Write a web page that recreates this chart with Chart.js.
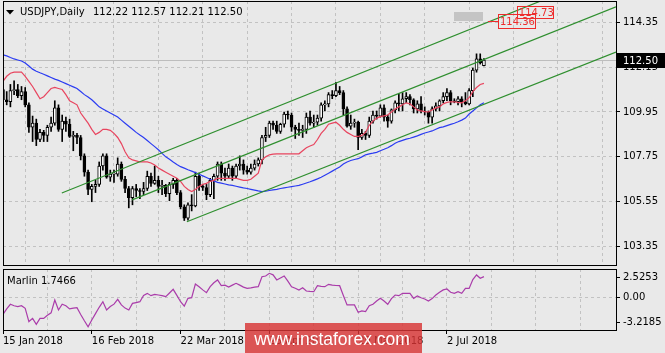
<!DOCTYPE html>
<html>
<head>
<meta charset="utf-8">
<script src="https://cdn.jsdelivr.net/npm/chart.js@4.4.1/dist/chart.umd.min.js"></script>
<style>
  html, body { margin: 0; padding: 0; background: #e9e9e9; }
  #wrap { position: relative; width: 665px; height: 353px; overflow: hidden; }
  #main { position: absolute; left: 0; top: 0; }
  #osc { position: absolute; left: 0; top: 267px; }
</style>
</head>
<body>
<div id="wrap">
  <canvas id="main" width="665" height="267"></canvas>
  <canvas id="osc" width="665" height="86"></canvas>
</div>
<script>
// USDJPY daily, bar 0 = 15 Jan 2018
const openP = [111.05,110.55,110.45,111.00,111.05,110.75,110.95,110.30,109.20,109.40,
  108.60,108.95,108.80,109.20,109.40,110.15,109.10,109.50,109.35,108.75,
  108.80,108.70,107.80,107.00,106.15,106.30,106.40,107.30,107.80,106.75,
  106.90,106.90,107.40,106.65,106.20,105.75,106.20,106.10,106.05,106.20,
  106.80,106.45,106.60,106.30,106.35,105.95,106.40,106.60,106.00,105.30,
  104.75,105.40,105.35,106.80,106.30,106.25,105.90,106.60,106.80,107.40,
  106.95,106.80,107.20,106.80,107.30,107.40,107.10,107.00,107.20,107.40,
  107.60,108.70,108.80,109.40,109.30,109.00,109.35,109.85,109.80,109.20,
  109.10,109.05,109.10,109.70,109.40,109.45,109.65,110.30,110.35,110.80,
  110.75,111.00,110.90,110.10,109.25,109.40,109.45,108.70,108.90,108.80,
  109.50,109.80,109.75,110.15,109.70,109.50,110.05,110.40,110.35,110.60,
  110.70,110.55,110.10,110.35,110.00,109.95,109.70,110.10,110.25,110.50,
  110.70,110.90,110.50,110.45,110.60,110.45,110.35,111.00,112.00,112.55,
  112.22];
const highP = [111.30,110.95,111.30,111.48,111.30,111.20,111.15,110.40,109.75,109.60,
  109.10,109.05,109.30,109.70,110.50,110.30,109.80,109.70,109.60,109.00,
  108.90,108.80,107.90,107.10,106.40,106.60,107.50,107.90,107.90,107.10,
  107.10,107.70,107.50,106.80,106.30,106.30,106.40,106.20,106.50,107.05,
  106.95,107.30,106.80,106.60,106.40,106.50,106.70,106.70,106.10,105.40,
  105.50,105.90,107.00,106.95,106.40,106.40,106.70,106.90,107.50,107.50,
  107.20,107.40,107.30,107.40,107.80,107.60,107.30,107.40,107.60,107.70,
  108.80,109.20,109.50,109.50,109.50,109.40,109.95,110.00,109.90,109.30,
  109.40,109.30,109.90,110.00,109.80,109.80,110.40,110.50,110.90,111.00,
  111.40,111.20,111.00,110.20,109.80,109.60,109.50,109.10,109.00,109.70,
  110.00,110.00,110.30,110.30,109.80,110.10,110.50,110.85,110.90,110.90,
  110.80,110.60,110.50,110.70,110.20,110.00,110.20,110.40,110.55,110.90,
  111.10,111.00,110.60,110.70,110.70,110.90,111.10,112.10,112.80,112.80,
  112.57];
const lowP = [110.33,110.30,110.20,110.80,110.65,110.55,110.20,108.95,108.50,108.30,
  108.50,108.50,108.50,109.00,109.30,109.00,108.50,109.00,108.70,108.05,
  108.40,107.60,106.80,105.90,105.55,106.00,106.30,107.10,106.70,106.55,
  106.50,106.80,106.55,106.00,105.25,105.40,105.80,105.70,105.90,106.10,
  106.30,106.40,106.00,105.90,105.80,105.60,106.20,105.90,105.20,104.63,
  104.65,105.10,105.30,106.10,106.10,105.65,105.80,105.70,106.60,106.60,
  106.60,106.70,106.60,106.70,107.10,106.90,106.90,106.90,107.10,107.30,
  107.40,108.50,108.70,109.10,108.90,108.90,109.20,109.60,109.00,108.65,
  108.80,108.70,108.90,109.30,109.20,109.30,109.50,110.00,110.20,110.60,
  110.70,110.80,109.80,109.20,109.10,109.20,108.10,108.60,108.60,108.70,
  109.40,109.60,109.70,109.50,109.20,109.40,109.90,110.00,110.00,110.40,
  110.30,109.90,109.90,109.90,109.80,109.40,109.40,110.00,110.00,110.40,
  110.50,110.30,110.40,110.30,110.20,110.30,110.30,110.70,111.90,112.30,
  112.21];
const closeP = [110.55,110.45,111.00,111.05,110.75,110.95,110.30,109.20,109.40,108.60,
  108.95,108.80,109.20,109.40,110.15,109.10,109.50,109.35,108.75,108.80,
  108.70,107.80,107.00,106.15,106.30,106.40,107.30,107.80,106.75,106.90,
  106.90,107.40,106.65,106.20,105.75,106.20,106.10,106.05,106.20,106.80,
  106.45,106.60,106.30,106.35,105.95,106.40,106.60,106.00,105.30,104.75,
  105.40,105.35,106.80,106.30,106.25,105.90,106.60,106.80,107.40,106.95,
  106.80,107.20,106.80,107.30,107.40,107.10,107.00,107.20,107.40,107.60,
  108.70,108.80,109.40,109.30,109.00,109.35,109.85,109.80,109.20,109.10,
  109.05,109.10,109.70,109.40,109.45,109.65,110.30,110.35,110.80,110.75,
  111.00,110.90,110.10,109.25,109.40,109.45,108.70,108.90,108.80,109.50,
  109.80,109.75,110.15,109.70,109.50,110.05,110.40,110.35,110.60,110.70,
  110.55,110.10,110.35,110.00,109.95,109.70,110.10,110.25,110.50,110.70,
  110.90,110.50,110.45,110.60,110.45,110.35,111.00,112.00,112.55,112.35,
  112.50];

// moving averages
const redMA = [111.45,111.70,111.85,111.90,111.90,111.90,111.70,111.45,111.20,110.90,
  110.60,110.70,110.90,111.10,111.15,111.10,111.05,110.80,110.50,110.40,
  110.30,109.90,109.65,109.40,109.10,108.85,108.95,109.10,109.10,109.05,
  108.90,108.70,108.40,108.00,107.70,107.60,107.55,107.50,107.50,107.50,
  107.45,107.35,107.20,107.10,107.00,106.90,106.80,106.70,106.55,106.30,
  106.15,106.05,106.15,106.30,106.40,106.45,106.55,106.60,106.70,106.70,
  106.70,106.70,106.70,106.70,106.65,106.60,106.60,106.65,106.80,106.95,
  107.60,107.75,107.85,107.88,107.90,107.90,107.90,107.90,107.90,107.90,
  107.90,108.05,108.20,108.28,108.35,108.60,108.90,109.10,109.35,109.40,
  109.45,109.30,109.10,108.95,108.85,108.75,108.75,108.80,108.95,109.30,
  109.50,109.65,109.72,109.76,109.80,109.95,110.10,110.20,110.30,110.40,
  110.35,110.20,110.05,110.00,109.97,109.95,110.05,110.15,110.20,110.35,
  110.42,110.45,110.45,110.42,110.40,110.50,110.65,110.95,111.15,111.30,
  111.35];
const blueMA = [112.75,112.70,112.62,112.55,112.50,112.45,112.35,112.20,112.05,111.95,
  111.87,111.80,111.72,111.64,111.56,111.50,111.42,111.34,111.26,111.18,
  111.10,110.95,110.80,110.68,110.55,110.38,110.20,110.10,110.00,109.90,
  109.80,109.70,109.55,109.40,109.25,109.10,108.95,108.82,108.70,108.55,
  108.40,108.25,108.10,107.92,107.75,107.63,107.50,107.38,107.27,107.20,
  107.12,107.05,106.98,106.90,106.82,106.74,106.65,106.57,106.50,106.46,
  106.42,106.38,106.35,106.31,106.27,106.23,106.20,106.16,106.12,106.08,
  106.05,106.07,106.10,106.13,106.16,106.20,106.23,106.26,106.29,106.32,
  106.35,106.41,106.47,106.53,106.60,106.67,106.75,106.85,106.95,107.05,
  107.15,107.25,107.40,107.50,107.57,107.62,107.66,107.75,107.85,107.90,
  107.93,107.97,108.05,108.12,108.20,108.30,108.42,108.50,108.56,108.62,
  108.66,108.72,108.78,108.85,108.92,108.97,109.02,109.10,109.18,109.22,
  109.28,109.34,109.40,109.47,109.55,109.65,109.85,110.00,110.15,110.30,
  110.40];

// Marlin oscillator
const marlin = [-2.2,-1.5,-0.92,-1.1,-1.2,-1.1,-1.43,-3.1,-2.7,-3.45,
  -2.7,-2.7,-2.3,-2.0,-0.38,-1.64,-0.92,-1.1,-1.5,-1.4,
  -1.35,-2.2,-3.0,-3.75,-2.9,-2.1,-1.3,-0.59,-1.64,-1.2,
  -0.9,-0.29,-1.0,-1.4,-1.64,-0.8,-0.7,-0.59,0.2,0.46,
  0.17,0.34,0.25,0.17,0.04,0.5,0.97,0.2,-0.6,-1.14,
  -0.17,-0.08,1.64,1.3,0.9,0.55,1.3,1.8,2.15,1.43,
  1.5,1.26,1.5,1.73,1.5,1.25,1.09,1.15,1.25,1.3,
  2.56,2.65,2.99,2.8,2.15,2.4,2.65,2.0,1.3,1.1,
  0.88,1.17,0.76,0.7,0.67,1.43,1.35,1.3,1.6,1.5,
  1.45,1.43,0.2,-1.0,-1.0,-1.0,-1.93,-1.76,-1.85,-1.1,
  -0.92,-0.5,-0.17,-0.5,-0.92,-0.2,0.25,0.17,0.46,0.46,
  0.46,-0.17,0.13,-0.1,-0.25,-0.5,-0.2,0.25,0.6,0.9,
  1.01,0.6,0.46,0.67,0.46,1.09,1.09,2.2,2.78,2.36,
  2.57];

// channel lines: [bar index, price] at each end
const channelTop = [[15.9, 105.98], [165.7, 116.87]];
const channelMid = [[34.9, 105.64], [165.7, 115.10]];
const channelLow = [[49.7, 104.57], [165.7, 112.89]];

const dateLabels = ['15 Jan 2018', '16 Feb 2018', '22 Mar 2018', '25 Apr 2018', '29 May 2018', '2 Jul 2018'];
const priceTicks = [103.35, 105.55, 107.75, 109.95, 112.15, 114.35];
const marlinTicks = [-3.2185, 0, 2.5253];
const lastPrice = 112.50;
const lineTags = [114.36, 114.73];

const xMin = 0, xMax = 165.7;

Chart.defaults.font.family = 'DejaVu Sans';
Chart.defaults.font.size = 10;
Chart.defaults.color = '#000';

function xGrid(scale) {
  const t = [];
  for (let v = 0; v <= xMax; v += 12) t.push({ value: v });
  scale.ticks = t;
}
function noPad(s) {
  s.paddingTop = 0; s.paddingBottom = 0; s.paddingLeft = 0; s.paddingRight = 0;
}

const bodyData = openP.map((o, i) => ({ x: i, y: [o, closeP[i]] }));
const wickData = highP.map((h, i) => ({ x: i, y: [lowP[i], h] }));
const bodyFill = openP.map((o, i) => closeP[i] >= o ? '#ffffff' : '#000000');
const asPoints = arr => arr.map((v, i) => ({ x: i, y: v }));
const asLine = pts => pts.map(p => ({ x: p[0], y: p[1] }));

const mainDecor = {
  id: 'mainDecor',
  beforeDatasetsDraw(chart) {
    const { ctx, chartArea: a, scales: { y } } = chart;
    const py = Math.round(y.getPixelForValue(lastPrice)) + 0.5;
    ctx.save();
    ctx.strokeStyle = '#bdbdbd';
    ctx.lineWidth = 1;
    ctx.beginPath();
    ctx.moveTo(a.left, py);
    ctx.lineTo(a.right, py);
    ctx.stroke();
    ctx.restore();
  },
  afterDraw(chart) {
    const { ctx, chartArea: a, scales: { x, y } } = chart;
    ctx.save();
    ctx.strokeStyle = '#000';
    ctx.lineWidth = 1;
    ctx.strokeRect(a.left + 0.5, a.top + 0.5, a.right - a.left, a.bottom - a.top - 1);

    // header
    ctx.fillStyle = '#000';
    ctx.beginPath();
    ctx.moveTo(6, 10); ctx.lineTo(14, 10); ctx.lineTo(10, 14.5); ctx.closePath();
    ctx.fill();
    ctx.font = '10px "DejaVu Sans"';
    ctx.textBaseline = 'alphabetic';
    ctx.fillText('USDJPY,Daily', 20, 15);
    ctx.fillText('112.22 112.57 112.21 112.50', 93, 15);

    // grey object box
    ctx.fillStyle = '#c4c4c4';
    ctx.fillRect(454, 12, 29, 9);

    // line price tags
    ctx.strokeStyle = '#ee2b2b';
    ctx.fillStyle = '#ee2b2b';
    const t1y = y.getPixelForValue(lineTags[0]) - 1.5;
    const t2y = y.getPixelForValue(lineTags[1]) - 2.5;
    const t1x = x.getPixelForValue(133.8);
    const t2x = x.getPixelForValue(138.9);
    ctx.beginPath();
    ctx.moveTo(488, Math.round(t1y) + 0.5);
    ctx.lineTo(t1x, Math.round(t1y) + 0.5);
    ctx.stroke();
    ctx.strokeRect(Math.round(t1x) + 0.5, Math.round(t1y - 7) + 0.5, 37, 14);
    ctx.fillText(lineTags[0].toFixed(2), t1x + 2, t1y + 4.5);
    ctx.strokeRect(Math.round(t2x) + 0.5, Math.round(t2y - 6) + 0.5, 36, 12);
    ctx.fillText(lineTags[1].toFixed(2), t2x + 2, t2y + 4);

    // last price marker
    const py = y.getPixelForValue(lastPrice);
    ctx.fillStyle = '#000';
    ctx.fillRect(617, Math.round(py) - 7, 48, 15);
    ctx.fillStyle = '#fff';
    ctx.fillText(lastPrice.toFixed(2), 623, py + 4);
    ctx.restore();
  }
};

new Chart(document.getElementById('main'), {
  type: 'bar',
  data: {
    datasets: [
      { type: 'bar', data: wickData, backgroundColor: '#000', barThickness: 1, grouped: false, order: 5 },
      { type: 'bar', data: bodyData, backgroundColor: bodyFill, borderColor: '#000', borderWidth: 1,
        borderSkipped: false, barThickness: 3, minBarLength: 1, grouped: false, order: 4 },
      { type: 'line', data: asPoints(blueMA), borderColor: '#2b3cf2', borderWidth: 1.2, pointRadius: 0, order: 3 },
      { type: 'line', data: asPoints(redMA), borderColor: '#e8455f', borderWidth: 1.2, pointRadius: 0, order: 2 },
      { type: 'line', data: asLine(channelTop), borderColor: '#2f8f2f', borderWidth: 1.2, pointRadius: 0, order: 1 },
      { type: 'line', data: asLine(channelMid), borderColor: '#2f8f2f', borderWidth: 1.2, pointRadius: 0, order: 1 },
      { type: 'line', data: asLine(channelLow), borderColor: '#2f8f2f', borderWidth: 1.2, pointRadius: 0, order: 1 }
    ]
  },
  options: {
    responsive: false,
    animation: false,
    devicePixelRatio: 1,
    layout: { padding: { left: 3, top: 1, bottom: 1, right: 0 } },
    plugins: { legend: { display: false }, tooltip: { enabled: false } },
    scales: {
      x: {
        type: 'linear', min: xMin, max: xMax, offset: false,
        afterBuildTicks: xGrid,
        afterFit: s => { s.height = 0; noPad(s); },
        ticks: { display: false },
        grid: { color: '#c2c2c2', drawTicks: false },
        border: { display: false, dash: [3, 3] }
      },
      y: {
        position: 'right', min: 102.40, max: 115.39,
        afterBuildTicks: s => { s.ticks = priceTicks.map(v => ({ value: v })); },
        afterFit: s => { s.width = 49; noPad(s); },
        ticks: { padding: 3, callback: v => Number(v).toFixed(2) },
        grid: { color: '#c2c2c2', tickLength: 4, tickColor: '#000', tickBorderDash: [] },
        border: { display: false, dash: [3, 3] }
      }
    }
  },
  plugins: [mainDecor]
});

const oscDecor = {
  id: 'oscDecor',
  afterDraw(chart) {
    const { ctx, chartArea: a } = chart;
    ctx.save();
    ctx.strokeStyle = '#000';
    ctx.lineWidth = 1;
    ctx.strokeRect(a.left + 0.5, a.top + 0.5, a.right - a.left, a.bottom - a.top - 1);
    ctx.fillStyle = '#000';
    ctx.font = '10px "DejaVu Sans"';
    ctx.fillText('Marlin 1.7466', 7, 16.5);

    // watermark
    ctx.fillStyle = 'rgba(216,52,52,0.82)';
    ctx.fillRect(245, 56, 177, 30);
    ctx.fillStyle = '#fff';
    ctx.font = '17.5px "Liberation Sans"';
    ctx.textAlign = 'center';
    ctx.fillText('www.instaforex.com', 332, 78);
    ctx.restore();
  }
};

new Chart(document.getElementById('osc'), {
  type: 'line',
  data: {
    datasets: [
      { data: asPoints(marlin), borderColor: '#aa3caa', borderWidth: 1.2, pointRadius: 0 }
    ]
  },
  options: {
    responsive: false,
    animation: false,
    devicePixelRatio: 1,
    layout: { padding: { left: 3, top: 2, bottom: 0, right: 0 } },
    plugins: { legend: { display: false }, tooltip: { enabled: false } },
    scales: {
      x: {
        type: 'linear', min: xMin, max: xMax, offset: false,
        afterBuildTicks: xGrid,
        afterFit: s => { s.height = 22; noPad(s); },
        ticks: {
          padding: 1, align: 'start', autoSkip: false, maxRotation: 0,
          callback: v => (v % 24 === 0 && v / 24 < dateLabels.length) ? dateLabels[v / 24] : ''
        },
        grid: {
          color: '#c2c2c2', tickLength: 3, tickBorderDash: [],
          tickColor: c => (c.tick && c.tick.value % 24 === 0 && c.tick.value / 24 < dateLabels.length) ? '#000' : 'rgba(0,0,0,0)'
        },
        border: { display: false, dash: [3, 3] }
      },
      y: {
        position: 'right', min: -4.29, max: 3.535,
        afterBuildTicks: s => { s.ticks = marlinTicks.map(v => ({ value: v })); },
        afterFit: s => { s.width = 49; noPad(s); },
        ticks: { padding: 3, callback: v => v === 0 ? '0.00' : String(v) },
        grid: {
          color: c => (c.tick && c.tick.value === 0) ? '#c2c2c2' : 'rgba(0,0,0,0)',
          tickLength: 4, tickColor: '#000', tickBorderDash: []
        },
        border: { display: false, dash: [3, 3] }
      }
    }
  },
  plugins: [oscDecor]
});
</script>
</body>
</html>
